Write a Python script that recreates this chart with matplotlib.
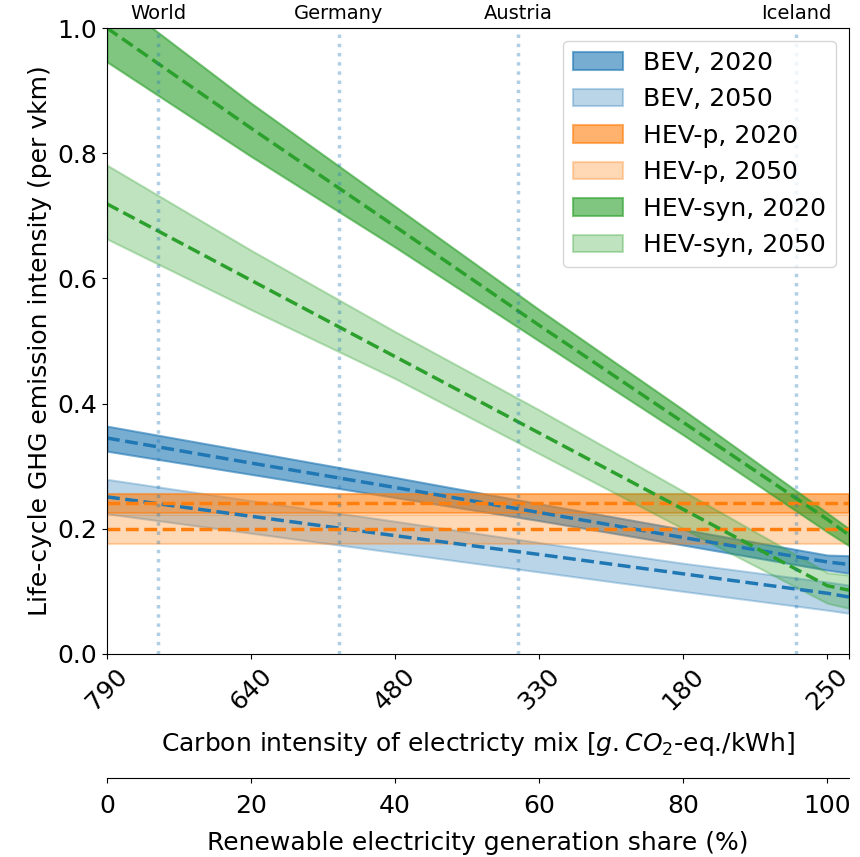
import numpy as np
import matplotlib.pyplot as plt

plt.rcParams['font.size'] = 18

# renewable share (%) grid used for every series
share = [0, 20, 40, 60, 80, 100, 103]

# BEV
bev20_mean = [0.345, 0.305, 0.266, 0.226, 0.186, 0.147, 0.143]
bev20_hi = [0.364, 0.323, 0.282, 0.240, 0.199, 0.158, 0.157]
bev20_lo = [0.324, 0.287, 0.250, 0.213, 0.174, 0.134, 0.129]
bev50_mean = [0.251, 0.220, 0.189, 0.159, 0.128, 0.097, 0.091]
bev50_hi = [0.279, 0.245, 0.212, 0.178, 0.145, 0.115, 0.110]
bev50_lo = [0.224, 0.193, 0.162, 0.131, 0.100, 0.070, 0.065]

# HEV-p (flat)
hevp20_mean = [0.241] * 7
hevp20_hi = [0.256] * 7
hevp20_lo = [0.225] * 7
hevp50_mean = [0.200] * 7
hevp50_hi = [0.222] * 7
hevp50_lo = [0.176] * 7

# HEV-syn
hevs20_mean = [1.000, 0.840, 0.683, 0.525, 0.370, 0.215, 0.190]
hevs20_hi = [1.055, 0.880, 0.715, 0.550, 0.390, 0.225, 0.200]
hevs20_lo = [0.946, 0.795, 0.650, 0.500, 0.350, 0.195, 0.173]
hevs50_mean = [0.719, 0.597, 0.475, 0.353, 0.231, 0.109, 0.102]
hevs50_hi = [0.781, 0.645, 0.515, 0.390, 0.260, 0.130, 0.126]
hevs50_lo = [0.663, 0.550, 0.440, 0.320, 0.200, 0.081, 0.073]

countries = ['World', 'Germany', 'Austria', 'Iceland']
country_share = [7.1, 32.2, 57.1, 95.7]

ci_ticks = [0, 20, 40, 60, 80, 100, 103]
ci_labels = ['790', '640', '480', '330', '180', '250', '']
share_ticks = [0, 20, 40, 60, 80, 100]

series = [
    ('BEV, 2020', 'tab:blue', 0.6, bev20_lo, bev20_hi, bev20_mean),
    ('BEV, 2050', 'tab:blue', 0.3, bev50_lo, bev50_hi, bev50_mean),
    ('HEV-p, 2020', 'tab:orange', 0.6, hevp20_lo, hevp20_hi, hevp20_mean),
    ('HEV-p, 2050', 'tab:orange', 0.3, hevp50_lo, hevp50_hi, hevp50_mean),
    ('HEV-syn, 2020', 'tab:green', 0.6, hevs20_lo, hevs20_hi, hevs20_mean),
    ('HEV-syn, 2050', 'tab:green', 0.3, hevs50_lo, hevs50_hi, hevs50_mean),
]

fig = plt.figure(figsize=(8.6, 8.57), dpi=100)
ax = fig.add_axes([0.1244, 0.2369, 0.8628, 0.7304])

for name, col, a, lo, hi, mean in series:
    ax.fill_between(share, lo, hi, color=col, alpha=a, label=name, linewidth=1.5)
    ax.plot(share, mean, color=col, linestyle='--', linewidth=2.5)

for c, s in zip(countries, country_share):
    ax.axvline(s, color='tab:blue', alpha=0.35, linestyle=':', linewidth=2.5)
    ax.text(s, 1.008, c, ha='center', va='bottom', fontsize=14,
            transform=ax.get_xaxis_transform())

ax.set_xlim(0, 103)
ax.set_ylim(0, 1.0)
ax.set_xticks(ci_ticks)
ax.set_xticklabels(ci_labels, rotation=45)
ax.set_xlabel(r'Carbon intensity of electricty mix [$g.CO_2$-eq./kWh]', labelpad=11)
ax.set_ylabel('Life-cycle GHG emission intensity (per vkm)')
ax.legend(loc='upper right')

# second x axis for renewable share
ax2 = ax.twiny()
ax2.set_xlim(0, 103)
ax2.xaxis.set_ticks_position('bottom')
ax2.xaxis.set_label_position('bottom')
ax2.spines['bottom'].set_position(('outward', 89))
for sp in ['top', 'left', 'right']:
    ax2.spines[sp].set_visible(False)
ax2.set_xticks(share_ticks)
ax2.tick_params(axis='x', pad=8)
ax2.set_xlabel('Renewable electricity generation share (%)', labelpad=10)

fig.savefig('out.png', dpi=100)
